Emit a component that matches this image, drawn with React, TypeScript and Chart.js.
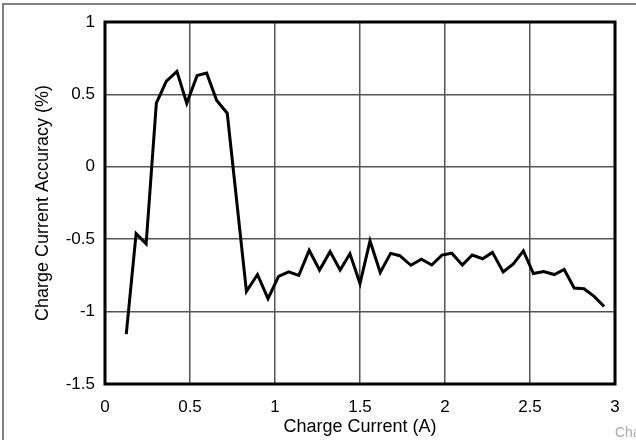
import React, { useEffect, useRef } from "react";
import { Chart, registerables } from "chart.js";

Chart.register(...registerables);

const chargeCurrentA = [
  0.125, 0.183, 0.242, 0.302, 0.361, 0.423, 0.481, 0.542, 0.598, 0.657, 0.719,
  0.832, 0.897, 0.959, 1.021, 1.08, 1.14, 1.201, 1.262, 1.324, 1.383, 1.441,
  1.5, 1.559, 1.619, 1.68, 1.734, 1.799, 1.861, 1.922, 1.982, 2.04, 2.102,
  2.16, 2.221, 2.279, 2.342, 2.402, 2.461, 2.52, 2.58, 2.643, 2.701, 2.76,
  2.818, 2.877, 2.936,
];

const accuracyPct = [
  -1.156, -0.462, -0.532, 0.439, 0.592, 0.659, 0.439, 0.631, 0.647, 0.458, 0.37,
  -0.86, -0.744, -0.911, -0.756, -0.725, -0.75, -0.577, -0.713, -0.586, -0.713,
  -0.6, -0.806, -0.512, -0.729, -0.598, -0.614, -0.68, -0.638, -0.678, -0.61,
  -0.597, -0.679, -0.609, -0.635, -0.591, -0.726, -0.67, -0.581, -0.737,
  -0.723, -0.744, -0.709, -0.837, -0.842, -0.895, -0.965,
];

const xTitle = "Charge Current (A)";
const yTitle = "Charge Current Accuracy (%)";
const watermark = "Chart";

const FONT = "'Liberation Sans', Arial, Helvetica, sans-serif";

const framePlugin = {
  id: "framePlugin",
  afterDraw(chart: any) {
    const { ctx, chartArea } = chart;
    const { left, right, top, bottom } = chartArea;
    ctx.save();
    ctx.setLineDash([]);
    // plot border
    ctx.strokeStyle = "#000000";
    ctx.lineWidth = 3;
    ctx.lineJoin = "miter";
    ctx.beginPath();
    ctx.moveTo(left, top);
    ctx.lineTo(right, top);
    ctx.lineTo(right, bottom);
    ctx.lineTo(left, bottom);
    ctx.closePath();
    ctx.stroke();
    // outer gray frame (top and left)
    ctx.strokeStyle = "#808080";
    ctx.lineWidth = 2;
    ctx.beginPath();
    ctx.moveTo(3, chart.height);
    ctx.lineTo(3, 4);
    ctx.lineTo(chart.width, 4);
    ctx.stroke();
    // watermark
    ctx.fillStyle = "#aaaaaa";
    ctx.font = `14px ${FONT}`;
    ctx.textBaseline = "alphabetic";
    ctx.textAlign = "left";
    ctx.fillText(watermark, 615, 437);
    ctx.restore();
  },
};

export default function App() {
  const ref = useRef<HTMLCanvasElement | null>(null);

  useEffect(() => {
    if (!ref.current) return;
    const data = chargeCurrentA.map((x, i) => ({ x, y: accuracyPct[i] }));
    const chart = new Chart(ref.current, {
      type: "line",
      data: {
        datasets: [
          {
            data,
            borderColor: "#000",
            borderWidth: 3,
            pointRadius: 0,
            tension: 0,
            fill: false,
          },
        ],
      },
      options: {
        responsive: false,
        animation: false,
        layout: { padding: { top: 22, right: 21, left: 0, bottom: 0 } },
        plugins: {
          legend: { display: false },
          tooltip: { enabled: false },
        },
        scales: {
          x: {
            type: "linear",
            min: 0,
            max: 3,
            afterFit(scale: any) {
              scale.height = 56;
            },
            ticks: {
              stepSize: 0.5,
              color: "#000",
              font: { family: FONT, size: 17 },
              padding: 13,
              maxRotation: 0,
              callback: (v: any) => String(v),
            },
            grid: {
              color: "#555",
              lineWidth: 1.5,
              drawTicks: false,
            },
            border: { display: false },
            title: {
              display: true,
              text: xTitle,
              color: "#000",
              font: { family: FONT, size: 18 },
              padding: { top: 0, bottom: 2 },
            },
          },
          y: {
            type: "linear",
            min: -1.5,
            max: 1,
            afterFit(scale: any) {
              scale.width = 105;
            },
            ticks: {
              stepSize: 0.5,
              color: "#000",
              font: { family: FONT, size: 17 },
              padding: 10,
              callback: (v: any) => String(v),
            },
            grid: {
              color: "#555",
              lineWidth: 1.5,
              drawTicks: false,
            },
            border: { display: false },
            title: {
              display: true,
              text: yTitle,
              color: "#000",
              font: { family: FONT, size: 18 },
              padding: { top: 32, bottom: 0 },
            },
          },
        },
      },
      plugins: [framePlugin],
    });
    return () => chart.destroy();
  }, []);

  return (
    <div style={{ position: "fixed", left: 0, top: 0, width: 636, height: 440, background: "#fff" }}>
      <canvas ref={ref} width={636} height={440} style={{ display: "block", width: 636, height: 440 }} />
    </div>
  );
}
